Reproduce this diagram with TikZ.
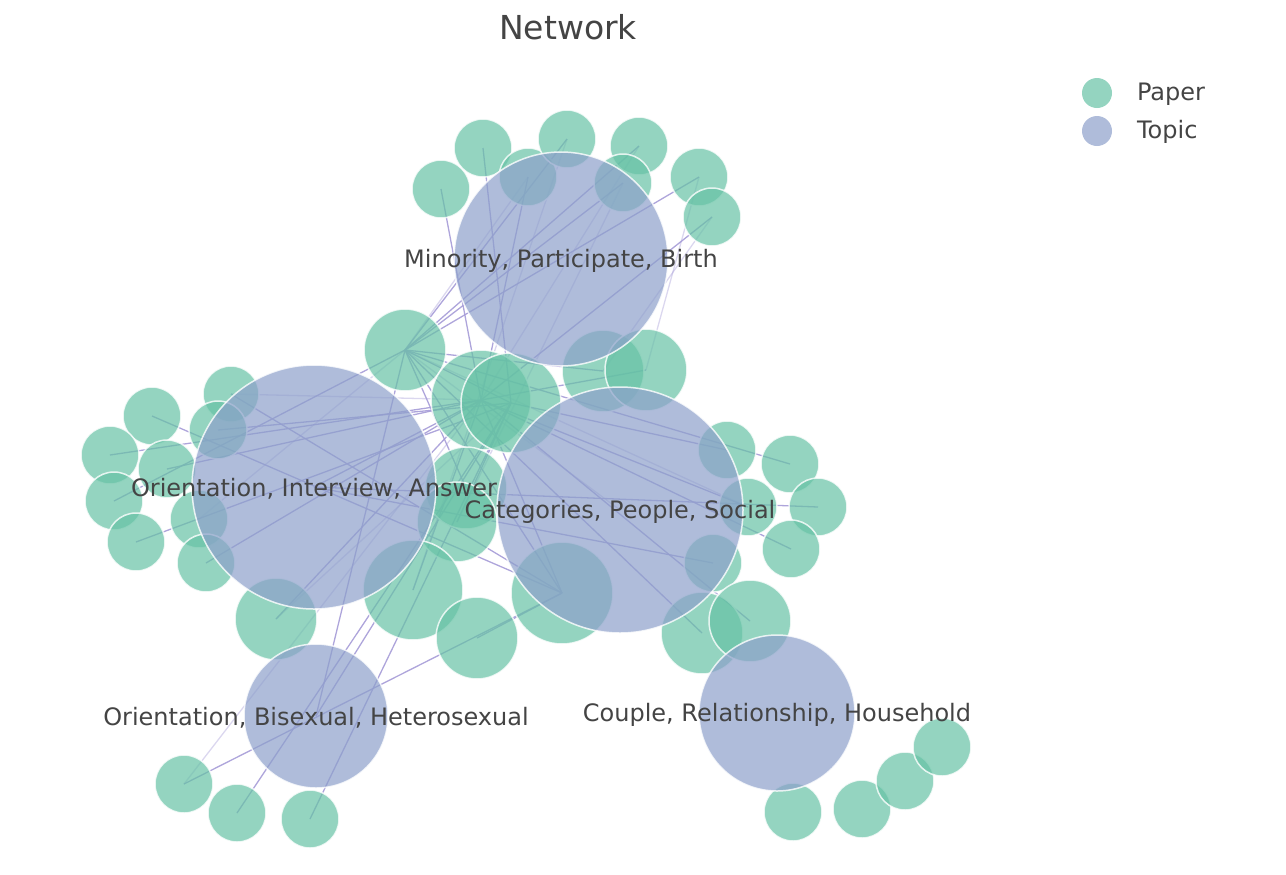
\documentclass[tikz,border=0pt]{standalone}
\usepackage{fontspec}
\setmainfont{DejaVu Sans}
\usetikzlibrary{backgrounds}
\definecolor{papergreen}{HTML}{66C2A5}
\definecolor{topicblue}{HTML}{8DA0CB}
\definecolor{linkpurple}{RGB}{165,155,215}
\definecolor{textgray}{HTML}{444444}
\begin{document}
\begin{tikzpicture}[x=0.5pt, y=-0.5pt,
    paper/.style={circle, inner sep=0pt, minimum size=#1, fill=papergreen, fill opacity=0.7, draw=white, draw opacity=0.8, line width=0.75pt},
    paper/.default=29pt,
    topic/.style={circle, inner sep=0pt, minimum size=#1, fill=topicblue, fill opacity=0.7, draw=white, draw opacity=0.8, line width=0.75pt},
    topiclabel/.style={text=textgray, font=\fontsize{12pt}{14pt}\selectfont},
    link/.style={draw=linkpurple, line width=0.65pt, draw opacity=0.9},
    faint/.style={link, draw opacity=0.4}]
  \useasboundingbox (0,0) rectangle (1286,874);

  \node[text=textgray, font=\fontsize{16.5pt}{18pt}\selectfont] (title) at (568,27) {Network};

  % papers round Minority
  \node[paper] (m1) at (441,189) {};
  \node[paper] (m2) at (483,148) {};
  \node[paper] (m3) at (528,177) {};
  \node[paper] (m4) at (567,139) {};
  \node[paper] (m5) at (639,146) {};
  \node[paper] (m6) at (623,183) {};
  \node[paper] (m7) at (699,177) {};
  \node[paper] (m8) at (712,217) {};

  % papers round Interview
  \node[paper=28pt] (o1) at (231,394) {};
  \node[paper] (o2) at (152,416) {};
  \node[paper] (o3) at (110,455) {};
  \node[paper] (o4) at (167,469) {};
  \node[paper] (o5) at (218,430) {};
  \node[paper] (o6) at (114,501) {};
  \node[paper] (o7) at (136,542) {};
  \node[paper] (o8) at (199,519) {};
  \node[paper] (o9) at (206,563) {};

  % big papers in the middle
  \node[paper=41pt] (g1) at (405,350) {};
  \node[paper=50pt] (g2) at (481,400) {};
  \node[paper=50pt] (g3) at (511,403) {};
  \node[paper=41pt] (g4) at (603,371) {};
  \node[paper=41pt] (g5) at (646,370) {};
  \node[paper=41pt] (g6) at (466,488) {};
  \node[paper=40pt] (g7) at (457,522) {};
  \node[paper=50pt] (g8) at (413,590) {};
  \node[paper=41pt] (g9) at (276,619) {};
  \node[paper=41pt] (g10) at (477,638) {};
  \node[paper=51pt] (g11) at (562,593) {};

  % papers round Categories
  \node[paper] (s1) at (727,450) {};
  \node[paper] (s2) at (790,464) {};
  \node[paper] (s3) at (748,507) {};
  \node[paper] (s4) at (818,507) {};
  \node[paper] (s5) at (791,549) {};
  \node[paper] (s6) at (713,563) {};
  \node[paper=41pt] (s7) at (702,633) {};
  \node[paper=41pt] (s8) at (750,621) {};

  % papers round Couple
  \node[paper] (h1) at (793,812) {};
  \node[paper] (h2) at (862,809) {};
  \node[paper] (h3) at (905,781) {};
  \node[paper] (h4) at (942,747) {};

  % papers round Bisexual
  \node[paper] (b1) at (184,784) {};
  \node[paper] (b2) at (237,813) {};
  \node[paper] (b3) at (310,819) {};

  % topics
  \node[topic=107pt] (t1) at (561,259) {};
  \node[topic=122pt] (t2) at (314,487) {};
  \node[topic=123pt] (t3) at (620,510) {};
  \node[topic=72pt] (t4) at (316,716) {};
  \node[topic=78pt] (t5) at (777,713) {};

  \node[topiclabel, yshift=-1pt] (t1lab) at (t1) {Minority, Participate, Birth};
  \node[topiclabel, yshift=-1pt] (t2lab) at (t2) {Orientation, Interview, Answer};
  \node[topiclabel, yshift=-1pt] (t3lab) at (t3) {Categories, People, Social};
  \node[topiclabel, yshift=-1pt] (t4lab) at (t4) {Orientation, Bisexual, Heterosexual};
  \node[topiclabel, yshift=-1pt] (t5lab) at (t5) {Couple, Relationship, Household};

  % legend
  \node[circle, inner sep=0pt, minimum size=15pt, fill=papergreen, fill opacity=0.7] (lpaper) at (1097,93) {};
  \node[anchor=west, topiclabel] (lpapertxt) at (1130,94) {Paper};
  \node[circle, inner sep=0pt, minimum size=15pt, fill=topicblue, fill opacity=0.7] (ltopic) at (1097,131) {};
  \node[anchor=west, topiclabel] (ltopictxt) at (1130,132) {Topic};

  \begin{scope}[on background layer]
    \draw[link] (m1.center) -- (g2.center);
    \draw[link] (m2.center) -- (g3.center);
    \draw[link] (m3.center) -- (g2.center);
    \draw[faint] (m3.center) -- (g1.center);
    \draw[link] (m4.center) -- (g1.center);
    \draw[faint] (m4.center) -- (g8.center);
    \draw[link] (m5.center) -- (g1.center);
    \draw[faint] (m5.center) -- (g2.center);
    \draw[link] (m6.center) -- (g1.center);
    \draw[faint] (m6.center) -- (g7.center);
    \draw[link] (m7.center) -- (g1.center);
    \draw[faint] (m7.center) -- (g5.center);
    \draw[link] (m8.center) -- (g2.center);
    \draw[faint] (m8.center) -- (g4.center);

    \draw[link] (o1.center) -- (g11.center);
    \draw[faint] (o1.center) -- (g2.center);
    \draw[link] (o2.center) -- (g11.center);
    \draw[link] (o3.center) -- (g2.center);
    \draw[link] (o4.center) -- (g2.center);
    \draw[link] (o5.center) -- (g3.center);
    \draw[link] (o6.center) -- (g1.center);
    \draw[link] (o7.center) -- (g3.center);
    \draw[faint] (o8.center) -- (g1.center);
    \draw[link] (o9.center) -- (g2.center);

    \draw[link] (s1.center) -- (g3.center);
    \draw[link] (s2.center) -- (g1.center);
    \draw[link] (s3.center) -- (g2.center);
    \draw[link] (s4.center) -- (t2.center);
    \draw[link] (s5.center) -- (g2.center);
    \draw[link] (s6.center) -- (t2.center);
    \draw[link] (s7.center) -- (g1.center);
    \draw[link] (s8.center) -- (g2.center);
    \draw[faint] (s3.center) -- (g1.center);

    \draw[link] (b1.center) -- (g11.center);
    \draw[faint] (b1.center) -- (g2.center);
    \draw[link] (b2.center) -- (g3.center);
    \draw[link] (b3.center) -- (g3.center);
    \draw[link] (t4.center) -- (g1.center);
    \draw[link] (t4.center) -- (g3.center);

    \draw[link] (g10.center) -- (g11.center);
    \draw[link] (g8.center) -- (g2.center);
    \draw[link] (g9.center) -- (g2.center);
    \draw[faint] (g9.center) -- (g3.center);
    \draw[link] (g11.center) -- (g1.center);
    \draw[link] (g11.center) -- (g2.center);
    \draw[link] (g6.center) -- (g1.center);
    \draw[link] (g7.center) -- (g3.center);
    \draw[link] (g4.center) -- (g1.center);
    \draw[link] (g5.center) -- (g2.center);
    \draw[link] (g1.center) -- (g3.center);
    \draw[faint] (g1.center) -- (t3.center);
    \draw[link] (g2.center) -- (t2.center);
  \end{scope}
\end{tikzpicture}
\end{document}
